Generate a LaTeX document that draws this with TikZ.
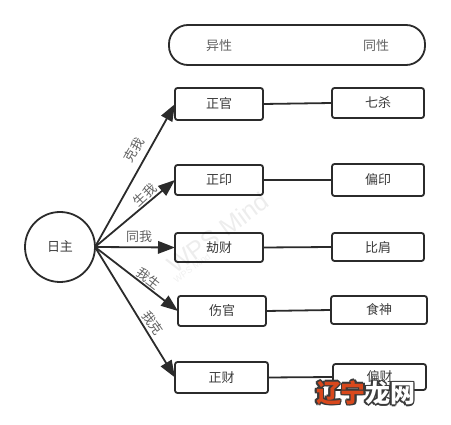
\documentclass[tikz,border=0pt]{standalone}
\usepackage{fontspec}
\setmainfont{Noto Sans CJK SC}
\newfontfamily\wmfont{Liberation Sans}
\usetikzlibrary{arrows.meta}
\definecolor{ink}{HTML}{2B2B2B}
\definecolor{txt}{HTML}{3A3A3A}
\definecolor{logored}{HTML}{D9481C}
\definecolor{logoedge}{HTML}{3A3A3A}
\tikzset{
  x=1pt,y=-1pt,
  box/.style={draw=ink,line width=1.8pt,rounded corners=2.5pt,fill=white,inner sep=0pt,outer sep=0pt,text=txt,font=\fontsize{13}{15}\selectfont},
  link/.style={draw=ink,line width=1.8pt},
  arr/.style={draw=ink,line width=1.8pt,-{Triangle[length=17pt,width=12.5pt]}},
  lab/.style={text=txt!80!white,font=\fontsize{13}{15}\selectfont,inner sep=0pt},
  wm/.style={text=black,opacity=.07,font=\wmfont\fontsize{25}{28}\selectfont,rotate=36,inner sep=0pt},
  wmsmall/.style={text=black,opacity=.06,font=\wmfont\fontsize{9}{11}\selectfont,rotate=36,inner sep=0pt},
  logo/.style={font=\bfseries\fontsize{25}{27}\selectfont,inner sep=0pt}
}
\newcommand{\bx}[6]{\node[box,minimum width=#4 pt - #3 pt,minimum height=#6 pt - #5 pt] (#1) at ({(#3+#4)/2},{(#5+#6)/2}) {#2};}
\begin{document}
\begin{tikzpicture}
\useasboundingbox (0,0) rectangle (451,425);
\node[draw=ink,line width=1.8pt,rounded corners=19pt,inner sep=0pt,outer sep=0pt,minimum width=256pt,minimum height=40pt] (top) at (297,45) {};
\node[lab] (yi) at (219,46) {异性};
\node[lab] (tong) at (376,46) {同性};
\node[draw=ink,line width=1.8pt,circle,minimum size=70pt,inner sep=0pt,outer sep=0pt,text=txt,font=\fontsize{13}{15}\selectfont] (ri) at (60,247) {日主};
\bx{a1}{正官}{175}{263}{88}{120}
\bx{a2}{正印}{175}{263}{165}{195}
\bx{a3}{劫财}{175}{263}{233}{262}
\bx{a4}{伤官}{178}{266}{296}{326}
\bx{a5}{正财}{175}{268}{362}{393}
\bx{b1}{七杀}{332}{424}{88}{118}
\bx{b2}{偏印}{332}{424}{164}{196}
\bx{b3}{比肩}{332}{424}{233}{261}
\bx{b4}{食神}{331}{427}{296}{324}
\bx{b5}{偏财}{333}{426}{364}{390}
\foreach \t in {a1,a2,a3,a4,a5}{\draw[arr] (ri.east) -- (\t.west);}
\draw[link] (a1.east) -- (b1.west);
\draw[link] (a2.east) -- (b2.west);
\draw[link] (a3.east) -- (b3.west);
\draw[link] (a4.east) -- (b4.west);
\draw[link] (a5.east) -- (b5.west);
\node[lab,rotate=60] (l1) at (134,150) {克我};
\node[lab,rotate=43] (l2) at (145,195) {生我};
\node[lab] (l3) at (139,237) {同我};
\node[lab,rotate=-38] (l4) at (149,279) {我生};
\node[lab,rotate=-55] (l5) at (153,323) {我克};
\node[wm] (w1) at (218,233) {WPS Mind};
\node[wmsmall] (w2) at (192,268) {WPS Mind};
\foreach \dx/\dy [count=\i] in {-1.5/0,1.5/0,0/-1.5,0/1.5,-1.1/-1.1,1.1/-1.1,-1.1/1.1,1.1/1.1}{
  \node[logo,text=logoedge] (sa\i) at (341+\dx,393+\dy) {辽宁};
  \node[logo,text=logoedge] (sb\i) at (390+\dx,393+\dy) {龙网};
}
\node[logo,text=logored] (lg1) at (341,393) {辽宁};
\node[logo,text=white] (lg2) at (390,393) {龙网};
\end{tikzpicture}
\end{document}
